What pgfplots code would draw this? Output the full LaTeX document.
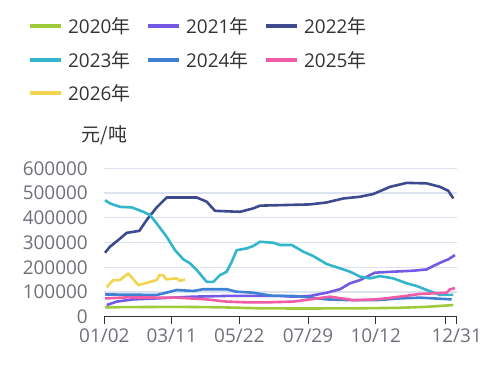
\documentclass[border=0pt]{standalone}
\usepackage{pgfplots}
\pgfplotsset{compat=1.18}
\usepackage{fontspec}
\setmainfont{Open Sans}
\newfontfamily\cjk{Noto Sans CJK SC}
\definecolor{c20}{HTML}{9FCB3A}
\definecolor{c21}{HTML}{7458E6}
\definecolor{c22}{HTML}{3E4A8E}
\definecolor{c23}{HTML}{33B5CB}
\definecolor{c24}{HTML}{3D80D4}
\definecolor{c25}{HTML}{F05CA5}
\definecolor{c26}{HTML}{F3D44E}
\definecolor{lbl}{HTML}{6E7079}
\definecolor{gridc}{HTML}{DCE2EE}
\definecolor{axc}{HTML}{333333}
\begin{document}
\begin{tikzpicture}
\useasboundingbox (0,0) rectangle (491bp,375bp);
\begin{axis}[
  at={(104.3bp,58.3bp)}, anchor=south west,
  scale only axis, width=352.4bp, height=148.4bp,
  xmin=104.3, xmax=456.7, ymin=0, ymax=600000,
  scaled y ticks=false,
  axis x line*=bottom, axis y line*=left,
  y axis line style={draw=none},
  x axis line style={draw=axc, line width=1bp},
  ytick={0,100000,200000,300000,400000,500000,600000},
  yticklabels={0,100000,200000,300000,400000,500000,600000},
  ytick style={draw=none},
  xtick={104.3,171.7,239.3,308,375.7,445,456.7},
  xticklabels={01/02,03/11,05/22,07/29,10/12,,12/31},
  xtick style={draw=axc, line width=1bp},
  tick align=outside, major tick length=7bp,
  ymajorgrids, grid style={draw=gridc, line width=1.2bp},
  tick label style={font=\fontsize{19}{22}\selectfont, text=lbl},
  yticklabel style={xshift=-6bp},
  xticklabel style={yshift=-2bp},
  every axis plot/.append style={line width=2.6bp, no markers, line join=round},
  legend columns=3,
  legend style={draw=none, fill=none, at={(-0.2166,2.03)}, anchor=north west,
    inner sep=0pt, font=\fontsize{19}{22}\selectfont, text=axc,
    cells={anchor=west},
    /tikz/every even column/.append style={column sep=8bp},
    /tikz/every odd column/.append style={column sep=5bp},
    row sep=12bp, nodes={text width=70bp, inner xsep=0pt}},
  legend image code/.code={\draw[line width=4bp] (0bp,0bp) -- (31bp,0bp);},
  clip=false,
]
\addplot[c20] coordinates {(105,38000)(140,39000)(176.7,40000)(220,38000)(260,34000)(300,33000)(360,34000)(400,36000)(426.7,40000)(453.3,47000)};
\addlegendentry{2020{\cjk 年}}
\addplot[c21] coordinates {(106.7,47000)(116.7,61000)(133.3,70000)(156.7,74000)(193.3,81000)(226.7,84000)(280,84000)(293.3,81000)(310,84000)(326.7,97000)(340,111000)(350,135000)(360,148000)(375,178000)(393.3,182000)(413.3,186000)(426.7,191000)(433.3,205000)(440,218000)(448.3,232000)(455,249000)};
\addlegendentry{2021{\cjk 年}}
\addplot[c22] coordinates {(105,258600)(110,283000)(118.3,310000)(126.7,339000)(139.3,347000)(146.7,391000)(156.7,442000)(166.7,482000)(196.7,482000)(206.7,465000)(215,428000)(240,424000)(253.3,438000)(260,449000)(310,454000)(326.7,462000)(343.3,478000)(360,485000)(373.3,496000)(390,525000)(406.7,541000)(426.7,539000)(440,525000)(448.3,509000)(453.3,478000)};
\addlegendentry{2022{\cjk 年}}
\addplot[c23] coordinates {(105,471000)(110,458000)(120,444000)(131.7,442000)(143.3,424000)(150,411000)(156.7,377000)(166.7,323000)(175,269000)(183.3,232000)(190,216000)(196.7,189000)(206.7,141000)(213.3,141000)(220,168000)(226.7,182000)(231.7,222000)(236.7,269000)(246.7,276000)(253.3,286000)(260,303000)(273.3,299000)(280,290000)(291.7,290000)(303.3,263000)(313.3,245000)(326.7,213000)(336.7,200000)(350,182000)(360,162000)(370,155000)(380,164000)(393.3,155000)(406.7,135000)(416.7,124000)(426.7,108000)(440,88000)(453.3,88000)};
\addlegendentry{2023{\cjk 年}}
\addplot[c24] coordinates {(105,90000)(156.7,88000)(163.3,94000)(176.7,108000)(193.3,104000)(203.3,111000)(226.7,111000)(236.7,101000)(253.3,97000)(266.7,88000)(273.3,84000)(293.3,84000)(310,78000)(326.7,70000)(350,67000)(376.7,67000)(400,74000)(420,77000)(451.7,70000)};
\addlegendentry{2024{\cjk 年}}
\addplot[c25] coordinates {(105,74000)(126.7,78000)(176.7,77000)(206.7,70000)(226.7,61000)(246.7,58000)(266.7,58000)(293.3,61000)(310,70000)(330,81000)(353.3,67000)(376.7,70000)(400,81000)(420,92000)(436.7,95000)(446.7,97000)(450,111000)(455,115000)};
\addlegendentry{2025{\cjk 年}}
\addplot[c26] coordinates {(106.7,119000)(113.3,148000)(120,148000)(128.3,175000)(138.3,128000)(146.7,137000)(156.7,148000)(159.3,168000)(163.3,168000)(166,151000)(176.7,155000)(180,145000)(185,151000)};
\addlegendentry{2026{\cjk 年}}
\node[font=\fontsize{19}{22}\selectfont\cjk, text=axc] at (rel axis cs:0,1.224) {元/吨};
\end{axis}
\end{tikzpicture}
\end{document}
